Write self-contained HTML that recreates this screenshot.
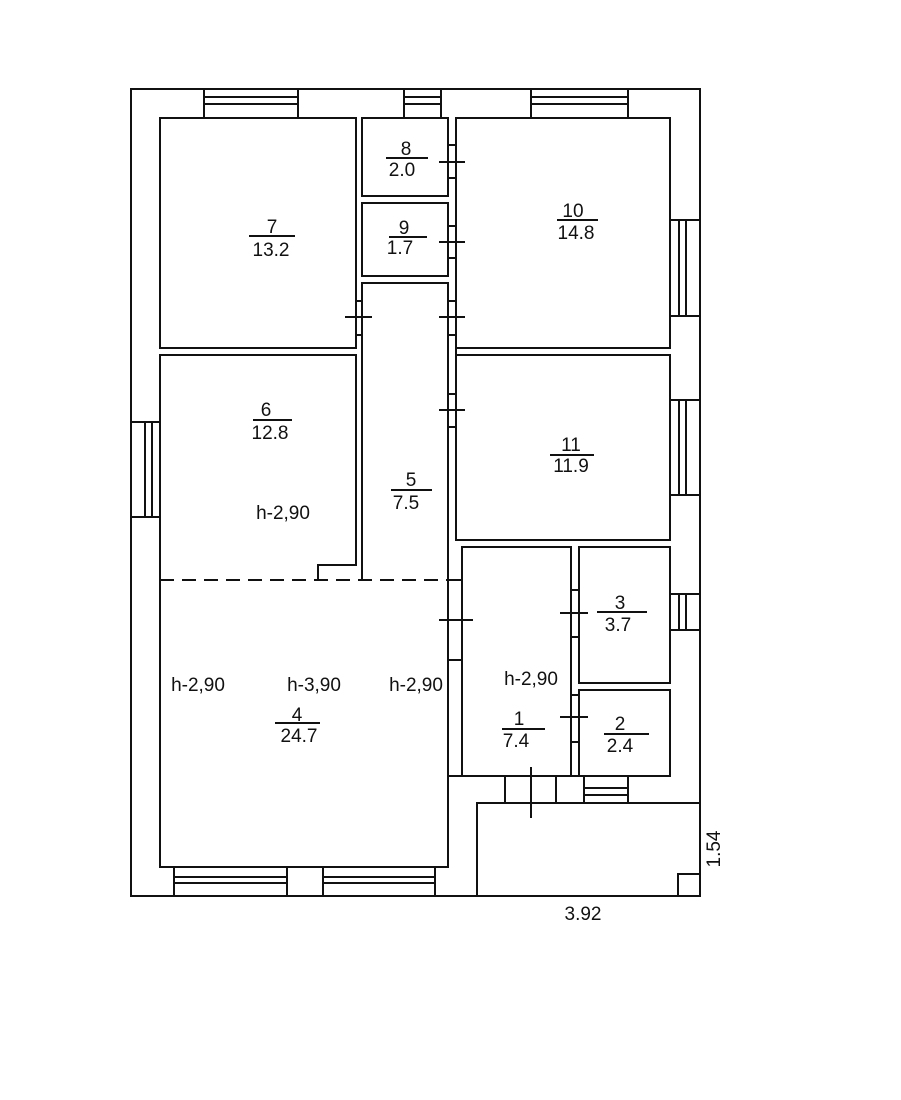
<!DOCTYPE html>
<html><head><style>body{margin:0;background:#fff}svg{display:block}text{font-family:"Liberation Sans",Arial,sans-serif;font-size:19px;fill:#111}</style></head><body>
<svg width="901" height="1100" viewBox="0 0 901 1100" xmlns="http://www.w3.org/2000/svg">
<g fill="none" stroke="#111" stroke-width="2">
<path d="M131 89H700V896H131Z"/>
<path d="M477 896V803H700"/>
<rect x="678" y="874" width="22" height="22"/>
<rect x="160" y="118" width="196" height="230"/>
<rect x="362" y="118" width="86" height="78"/>
<rect x="362" y="203" width="86" height="73"/>
<path d="M362 580V283H448V580"/>
<rect x="456" y="118" width="214" height="230"/>
<path d="M160 580V355H356V565H318V580"/>
<rect x="456" y="355" width="214" height="185"/>
<path d="M160 580V867H448V580"/>
<rect x="462" y="547" width="109" height="229"/>
<rect x="579" y="547" width="91" height="136"/>
<rect x="579" y="690" width="91" height="86"/>
<path d="M448 776H670"/>
<path d="M456 118V145M448 145H456M448 178H456M456 178V226M448 226H456M448 258H456M456 258V301M448 301H456M448 335H456M456 335V394M448 394H456M448 427H456M456 427V540"/>
<path d="M356 301H362M356 335H362"/>
<path d="M462 580H448M448 660H462M462 580V776"/>
<path d="M571 590H579M571 637H579M571 695H579M571 742H579"/>
<path d="M439 162H465M439 242H465M439 317H465M345 317H372M439 410H465M439 620H473M560 613H588M560 717H588M531 767V818"/>
<path d="M505 776V803M556 776V803M584 776V803M628 776V803M584 788H628M584 795H628"/>
<path d="M204 89V118M298 89V118M204 97H298M204 104H298"/>
<path d="M404 89V118M441 89V118M404 97H441M404 104H441"/>
<path d="M531 89V118M628 89V118M531 97H628M531 104H628"/>
<path d="M670 220H700M670 316H700M686 220V316M679 220V316"/>
<path d="M670 400H700M670 495H700M686 400V495M679 400V495"/>
<path d="M670 594H700M670 630H700M686 594V630M679 594V630"/>
<path d="M131 422H160M131 517H160M145 422V517M152 422V517"/>
<path d="M174 867V896M287 867V896M174 877H287M174 883H287"/>
<path d="M323 867V896M435 867V896M323 877H435M323 883H435"/>
<path d="M160 580H448" stroke-dasharray="14,8"/>
<path d="M386 158H428M389 237H427M249 236H295M557 220H598M253 420H292M391 490H432M550 455H594M597 612H647M502 729H545M604 734H649M275 723H320"/>
</g>
<g text-anchor="middle">
<text x="406" y="155">8</text><text x="402" y="176">2.0</text>
<text x="404" y="234">9</text><text x="400" y="254">1.7</text>
<text x="272" y="233">7</text><text x="271" y="256">13.2</text>
<text x="573" y="217">10</text><text x="576" y="239">14.8</text>
<text x="266" y="416">6</text><text x="270" y="439">12.8</text>
<text x="283" y="519">h-2,90</text>
<text x="411" y="486">5</text><text x="406" y="509">7.5</text>
<text x="571" y="451">11</text><text x="571" y="472">11.9</text>
<text x="620" y="609">3</text><text x="618" y="631">3.7</text>
<text x="198" y="691">h-2,90</text><text x="314" y="691">h-3,90</text><text x="416" y="691">h-2,90</text>
<text x="531" y="685">h-2,90</text>
<text x="297" y="721">4</text><text x="299" y="742">24.7</text>
<text x="519" y="725">1</text><text x="516" y="747">7.4</text>
<text x="620" y="730">2</text><text x="620" y="752">2.4</text>
<text x="583" y="920">3.92</text>
<text x="720" y="849" transform="rotate(-90 720 849)">1.54</text>
</g>
</svg>
</body></html>
